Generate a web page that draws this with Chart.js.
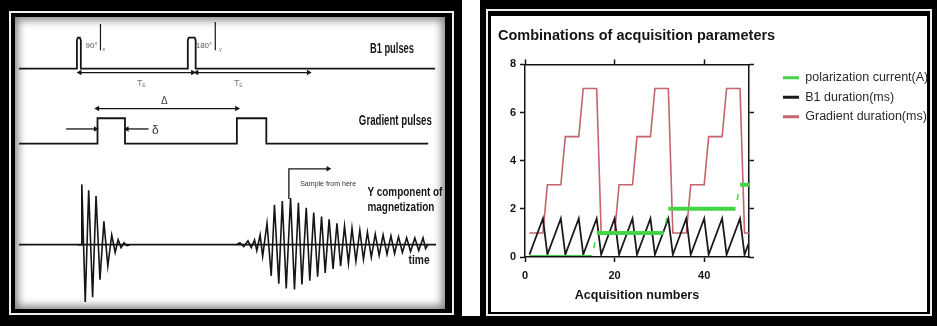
<!DOCTYPE html>
<html lang="en">
<head>
<meta charset="utf-8">
<title>Pulse sequence and acquisition parameters</title>
<script src="https://cdn.jsdelivr.net/npm/chart.js@4.4.1/dist/chart.umd.min.js"></script>
<style>
  html, body { margin: 0; padding: 0; background: #fff; }
  body { position: relative; width: 937px; height: 326px; overflow: hidden; }
  .panel { position: absolute; top: 0; height: 326px; background: #000; }
  .rule { position: absolute; box-sizing: border-box; border: 2px solid #eee; }
  .content { position: absolute; background: #fff; overflow: hidden; }
  .holder { position: absolute; left: 0; top: 0; width: 100%; height: 100%; }
  #leftPanel { left: 0; width: 462px; }
  #leftPanel .content { box-shadow: inset 0 0 9px 3px rgba(0,0,0,0.5); }
  #rightPanel { left: 480px; width: 457px; }
  #footStrip { position: absolute; left: 462px; top: 316px; width: 18px; height: 10px; background: #000; }
</style>
</head>
<body>
<div class="panel" id="leftPanel">
  <div class="rule" style="left:9px;top:11px;width:445px;height:304px"></div>
  <div class="content" style="left:15px;top:17px;width:430px;height:292px">
    <div class="holder"><canvas id="diagram"></canvas></div>
  </div>
</div>
<div id="footStrip"></div>
<div class="panel" id="rightPanel">
  <div class="rule" style="left:6px;top:9px;width:446px;height:307px"></div>
  <div class="content" style="left:11px;top:16px;width:436px;height:296px">
    <div class="holder"><canvas id="params"></canvas></div>
  </div>
</div>

<script>
// ---------- right chart data ----------
const acqNumbers = [1,2,3,4,5,6,7,8,9,10,11,12,13,14,15,16,17,18,19,20,21,22,23,24,25,
  26,27,28,29,30,31,32,33,34,35,36,37,38,39,40,41,42,43,44,45,46,47,48,49,50];
const polarizationCurrent = [0,0,0,0,0,0,0,0,0,0,0,0,0,0,0,
  1,1,1,1,1,1,1,1,1,1,1,1,1,1,1,1,
  2,2,2,2,2,2,2,2,2,2,2,2,2,2,2,2,
  3,3,3];
const b1Duration = [0.1,0.6,1.1,1.6, 0.1,0.6,1.1,1.6, 0.1,0.6,1.1,1.6, 0.1,0.6,1.1,1.6,
  0.1,0.6,1.1,1.6, 0.1,0.6,1.1,1.6, 0.1,0.6,1.1,1.6, 0.1,0.6,1.1,1.6,
  0.1,0.6,1.1,1.6, 0.1,0.6,1.1,1.6, 0.1,0.6,1.1,1.6, 0.1,0.6,1.1,1.6,
  0.1,0.6];
const gradientDuration = [1,1,1,1,3,3,3,3,5,5,5,5,7,7,7,7,
  1,1,1,1,3,3,3,3,5,5,5,5,7,7,7,7,
  1,1,1,1,3,3,3,3,5,5,5,5,7,7,7,7,
  1,1];
const seriesNames = ['polarization current(A)', 'B1 duration(ms)', 'Gradient duration(ms)'];
const xTickValues = [0, 20, 40];
const yTickValues = [0, 2, 4, 6, 8];

// ---------- left diagram data: time vs. level, one level axis per track ----------
const b1Trace = [[0,0],[59,0],[59,29],[60,32],[62,32],[63,29],[63,0],
  [172,0],[172,29],[173,32],[179,32],[180,29],[180,0],[424,0]];
const gradientTrace = [[0,0],[80,0],[80,26],[108,26],[108,0],
  [222,0],[222,26],[252,26],[252,0],[417,0]];
const signalBaseline = [[0,0],[425,0]];
const fidPeaks = [[60,0],[63.5,0],[64,62],[67.5,-59],[71,56],[75,-54],[78.5,50],[82.5,-36],
  [86.5,24],[90.5,-22],[94.5,10],[98,-8],[101,5],[104,-3],[107,2],[110,-1],[113,0]];
const echoPeaks = [[221.7,0],[225,2],[229,-2],[233.3,4],[236.7,-3],[240,5],[242.3,-6],
  [245.7,10],[248.3,-12],[252.7,22],[257,-32],[260.3,41],[264.7,-40],[268.3,45],
  [272.3,-45],[276.7,48],[280.7,-46],[284.7,43],[288.3,-41],[292.7,38],[296.3,-37],
  [300.3,33],[304.3,-33],[308.3,29],[312,-29],[316,26],[320,-25],[324,22],[327.7,-22],
  [331.7,19],[335.7,-19],[339.3,17],[343.3,-17],[347.3,15],[351,-15],[355,13],[359,-13],
  [363,11],[367,-11],[371,10],[375,-10],[379,9],[382.7,-9],[386.7,8],[390.7,-8],[395,7],
  [399,-7],[403.3,7],[407.3,-6],[411.7,7],[414.3,-4],[416.7,0]];
const pulseMarkers = [[[83,46],[83,19]], [[200,48],[200,19]]];
// arrows: points, head rotation per point (null = no head)
const teArrows = [
  {pts: [[62,-4],[177,-4]], heads: [-90, 90], axis: 'yB1'},
  {pts: [[181,-4],[295,-4]], heads: [-90, 90], axis: 'yB1'},
  {pts: [[80,36],[222,36]], heads: [-90, 90], axis: 'yGrad'},
  {pts: [[48,15],[78,15]], heads: [null, 90], axis: 'yGrad'},
  {pts: [[132,15],[110,15]], heads: [null, -90], axis: 'yGrad'},
  {pts: [[275,47],[275,78],[315,78]], heads: [null, null, 90], axis: 'ySig'}
];
const diagramLabels = [
  {text: '90°', t: 74, v: 23, axis: 'yB1', size: 8, color: '#555', align: 'center'},
  {text: 'x', t: 85, v: 20, axis: 'yB1', size: 5, color: '#555'},
  {text: '180°', t: 188.5, v: 23, axis: 'yB1', size: 8, color: '#555', align: 'center'},
  {text: 'y', t: 204, v: 20, axis: 'yB1', size: 5, color: '#555'},
  {text: 'B1 pulses', t: 380, v: 20, axis: 'yB1', size: 14, bold: true, width: 44, align: 'center'},
  {text: 'T', t: 123, v: -15, axis: 'yB1', size: 9, color: '#777', align: 'center'},
  {text: 'E', t: 125.5, v: -17, axis: 'yB1', size: 5, color: '#777'},
  {text: 'T', t: 222, v: -15, axis: 'yB1', size: 9, color: '#777', align: 'center'},
  {text: 'E', t: 224.5, v: -17, axis: 'yB1', size: 5, color: '#777'},
  {text: 'Δ', t: 148, v: 43, axis: 'yGrad', size: 10, color: '#444', align: 'center'},
  {text: 'δ', t: 139, v: 13, axis: 'yGrad', size: 12, color: '#333', align: 'center'},
  {text: 'Gradient pulses', t: 383.5, v: 23, axis: 'yGrad', size: 14, bold: true, width: 73, align: 'center'},
  {text: 'Sample from here', t: 315, v: 62, axis: 'ySig', size: 7, color: '#333', width: 56, align: 'center'},
  {text: 'Y component of', t: 355, v: 54, axis: 'ySig', size: 13, bold: true, width: 75},
  {text: 'magnetization', t: 355, v: 38, axis: 'ySig', size: 13, bold: true, width: 67},
  {text: 'time', t: 397, v: -16, axis: 'ySig', size: 13, bold: true, width: 21}
];

const INK = '#151515';

function hasFont(name) {
  const c = document.createElement('canvas').getContext('2d');
  const probe = 'abcdefghijklmnopqrstuvwxyz';
  c.font = '20px monospace';
  const a = c.measureText(probe).width;
  c.font = `20px "${name}", monospace`;
  return c.measureText(probe).width !== a;
}
const narrowOk = hasFont('Liberation Sans Narrow');
const CONDENSED = narrowOk ? '"Liberation Sans Narrow", "Liberation Sans", Arial, sans-serif'
                           : '"Liberation Sans", Arial, sans-serif';
const REGULAR = '"Liberation Sans", Arial, sans-serif';

const toXY = pairs => pairs.map(([t, v]) => ({x: t, y: v}));

// ---------- left: pulse sequence diagram ----------
const diagramText = {
  id: 'diagramText',
  afterDatasetsDraw(chart) {
    const {ctx, scales} = chart;
    diagramLabels.forEach(l => {
      const x = scales.x.getPixelForValue(l.t);
      const y = scales[l.axis].getPixelForValue(l.v);
      ctx.save();
      ctx.font = `${l.bold ? 'bold ' : ''}${l.size}px ${REGULAR}`;
      ctx.fillStyle = l.color || INK;
      ctx.textBaseline = 'middle';
      ctx.textAlign = 'left';
      const natural = ctx.measureText(l.text).width;
      const sx = l.width ? l.width / natural : 1;
      const left = l.align === 'center' ? x - natural * sx / 2 : x;
      ctx.translate(left, y);
      ctx.scale(sx, 1);
      ctx.fillText(l.text, 0, 0);
      ctx.restore();
    });
  }
};

const traceSet = (pairs, axis, width) => ({
  data: toXY(pairs), yAxisID: axis, showLine: true,
  borderColor: INK, borderWidth: width, pointRadius: 0
});

const diagramSets = [
  traceSet(b1Trace, 'yB1', 1.8),
  traceSet(gradientTrace, 'yGrad', 1.8),
  traceSet(signalBaseline, 'ySig', 1.8),
  traceSet(fidPeaks, 'ySig', 1.6),
  traceSet(echoPeaks, 'ySig', 1.6),
  ...pulseMarkers.map(m => traceSet(m, 'yB1', 1.2)),
  ...teArrows.map(a => ({
    data: toXY(a.pts), yAxisID: a.axis, showLine: true,
    borderColor: INK, borderWidth: 1.3,
    pointStyle: 'triangle',
    pointRadius: a.heads.map(h => h === null ? 0 : 3.2),
    pointRotation: a.heads.map(h => h === null ? 0 : h),
    pointBackgroundColor: INK, pointBorderWidth: 0
  }))
];

// track baselines sit at 49, 126 and 230 px from the top of a 292 px area
const trackAxis = base => ({type: 'linear', display: false, min: base - 292, max: base});

new Chart(document.getElementById('diagram'), {
  type: 'scatter',
  data: {datasets: diagramSets},
  options: {
    responsive: true, maintainAspectRatio: false, animation: false, events: [],
    layout: {padding: 0},
    plugins: {legend: {display: false}, tooltip: {enabled: false}},
    scales: {
      x: {type: 'linear', display: false, min: 0, max: 430},
      yB1: trackAxis(49),
      yGrad: trackAxis(126),
      ySig: trackAxis(230)
    }
  },
  plugins: [diagramText]
});

// ---------- right: combinations of acquisition parameters ----------
const seriesColors = ['#45d445', '#1a1a1a', '#c4646c'];
const seriesWidths = [4, 1.8, 1.6];
const seriesValues = [polarizationCurrent, b1Duration, gradientDuration];

const paramSets = seriesValues.map((vals, i) => ({
  label: seriesNames[i],
  data: acqNumbers.map((n, k) => ({x: n, y: vals[k]})),
  showLine: true,
  borderColor: seriesColors[i],
  borderWidth: seriesWidths[i],
  pointRadius: 0,
  pointStyle: 'line',
  segment: i === 0 ? {
    // the current steps show only a short thin tick between levels
    borderWidth: ctx => ctx.p0.parsed.y !== ctx.p1.parsed.y ? 1.5 : undefined,
    borderDash: ctx => ctx.p0.parsed.y !== ctx.p1.parsed.y ? [0, 9, 6, 100] : undefined
  } : undefined
}));

const axisLine = {display: true, color: INK, width: 1.5};
const tickMarks = {display: true, drawOnChartArea: false, color: INK, tickColor: INK,
  tickLength: 5, tickWidth: 1.5};
const fixTicks = values => axis => { axis.ticks = values.map(v => ({value: v})); };
const tickFont = {family: REGULAR, size: 11, weight: 'bold'};

new Chart(document.getElementById('params'), {
  type: 'scatter',
  data: {datasets: paramSets},
  options: {
    responsive: true, maintainAspectRatio: false, animation: false, events: [],
    layout: {padding: {left: 7, top: 0, right: 0, bottom: 0}},
    plugins: {
      tooltip: {enabled: false},
      title: {
        display: true, text: 'Combinations of acquisition parameters',
        align: 'start', color: INK,
        font: {family: REGULAR, size: 14.5, weight: 'bold'},
        padding: {top: 11, bottom: 10}
      },
      legend: {
        position: 'right', align: 'start', fullSize: false, maxWidth: 151,
        labels: {
          usePointStyle: true, pointStyleWidth: 16, padding: 7,
          color: '#2a2a2a',
          font: {family: CONDENSED, size: narrowOk ? 15 : 12.5},
          generateLabels: chart => Chart.defaults.plugins.legend.labels.generateLabels(chart)
            .map(item => ({...item, lineWidth: 3, pointStyle: 'line'}))
        }
      }
    },
    scales: {
      x: {
        type: 'linear', position: 'bottom', min: 0, max: 50,
        afterBuildTicks: fixTicks(xTickValues),
        afterFit: axis => { axis.height = 55; },
        border: {...axisLine, z: 1},
        grid: tickMarks,
        ticks: {color: INK, font: tickFont, padding: 7, maxRotation: 0},
        title: {
          display: true, text: 'Acquisition numbers', color: INK,
          font: {family: CONDENSED, size: narrowOk ? 15 : 12.5, weight: 'bold'},
          padding: {top: 0, bottom: 9}
        }
      },
      x2: {
        type: 'linear', position: 'top', min: 0, max: 50,
        afterBuildTicks: fixTicks(xTickValues),
        afterFit: axis => { axis.height = 10; },
        border: axisLine, grid: tickMarks,
        ticks: {display: false}
      },
      y: {
        type: 'linear', position: 'left', min: 0, max: 8,
        afterBuildTicks: fixTicks(yTickValues),
        afterFit: axis => { axis.width = 27; },
        border: axisLine, grid: tickMarks,
        ticks: {color: INK, font: tickFont, padding: 4}
      },
      y2: {
        type: 'linear', position: 'right', min: 0, max: 8,
        afterBuildTicks: fixTicks(yTickValues),
        afterFit: axis => { axis.width = 27; },
        border: axisLine, grid: tickMarks,
        ticks: {display: false}
      }
    }
  }
});
</script>
</body>
</html>
